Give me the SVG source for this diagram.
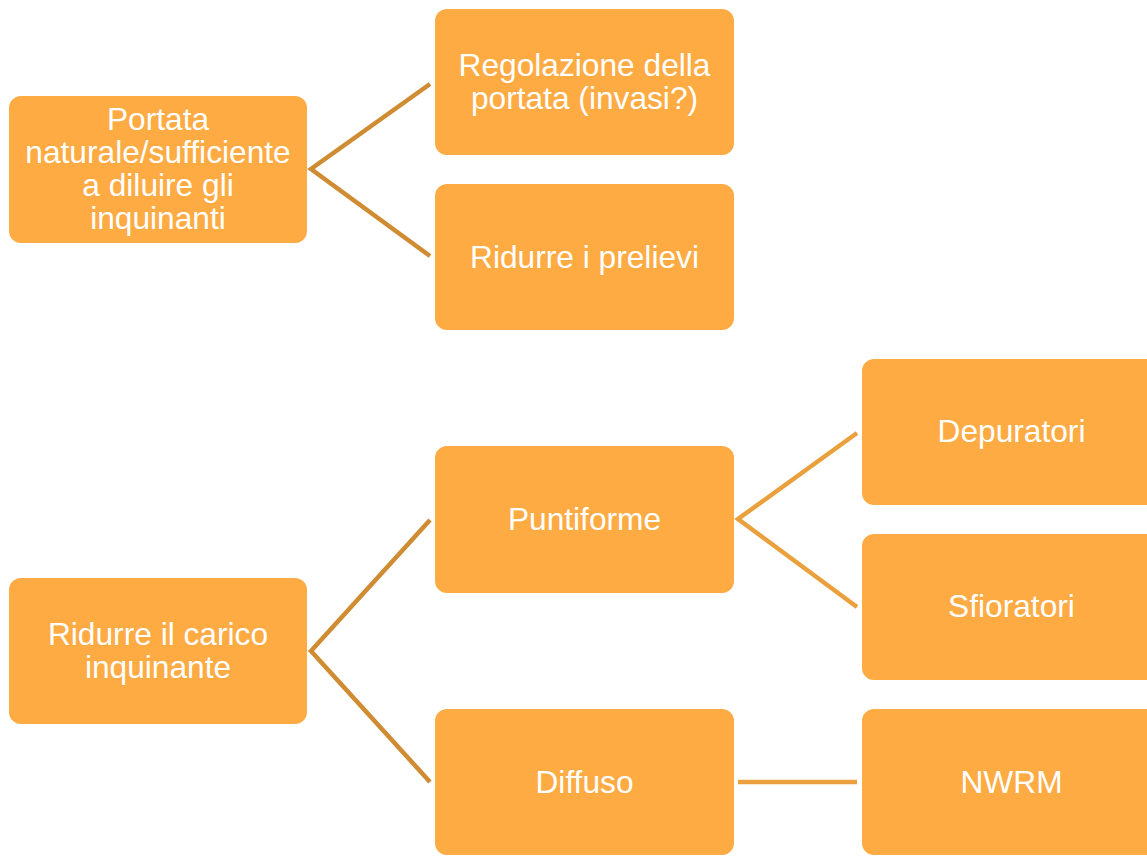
<svg xmlns="http://www.w3.org/2000/svg" width="1147" height="859" viewBox="0 0 1147 859">
<style>
.box{fill:#FEAB44;}
.t{fill:#FFFFFF;font-family:"Liberation Sans",Arial,sans-serif;font-size:31.7px;text-anchor:middle;}
.c1{stroke:#CF8C32;stroke-width:4.5;fill:none;}
.c2{stroke:#E9A03D;stroke-width:4.5;fill:none;}
</style>
<rect width="1147" height="859" fill="#FFFFFF"/>
<g id="connectors">
<polyline class="c1" points="430,84 311,169 430,256"/>
<polyline class="c1" points="430,520 311,651 430,782"/>
<polyline class="c2" points="857,433 738,519 857,607"/>
<line class="c2" x1="738" y1="782" x2="857" y2="782"/>
</g>
<g id="n1"><rect class="box" x="9" y="96" width="298" height="147" rx="12"/>
<text class="t"><tspan x="158" y="130">Portata</tspan><tspan x="158" y="163">naturale/sufficiente</tspan><tspan x="158" y="196">a diluire gli</tspan><tspan x="158" y="229">inquinanti</tspan></text></g>
<g id="n2"><rect class="box" x="435" y="9" width="299" height="146" rx="12"/>
<text class="t"><tspan x="584.5" y="76">Regolazione della</tspan><tspan x="584.5" y="109">portata (invasi?)</tspan></text></g>
<g id="n3"><rect class="box" x="435" y="184" width="299" height="146" rx="12"/>
<text class="t" x="584.5" y="268">Ridurre i prelievi</text></g>
<g id="n4"><rect class="box" x="9" y="578" width="298" height="146" rx="12"/>
<text class="t"><tspan x="158" y="645">Ridurre il carico</tspan><tspan x="158" y="678">inquinante</tspan></text></g>
<g id="n5"><rect class="box" x="435" y="446" width="299" height="147" rx="12"/>
<text class="t" x="584.5" y="530">Puntiforme</text></g>
<g id="n6"><rect class="box" x="435" y="709" width="299" height="146" rx="12"/>
<text class="t" x="584.5" y="793">Diffuso</text></g>
<g id="n7"><rect class="box" x="862" y="359" width="299" height="146" rx="12"/>
<text class="t" x="1011.5" y="442">Depuratori</text></g>
<g id="n8"><rect class="box" x="862" y="534" width="299" height="146" rx="12"/>
<text class="t" x="1011.5" y="617">Sfioratori</text></g>
<g id="n9"><rect class="box" x="862" y="709" width="299" height="146" rx="12"/>
<text class="t" x="1011.5" y="793">NWRM</text></g>
</svg>
